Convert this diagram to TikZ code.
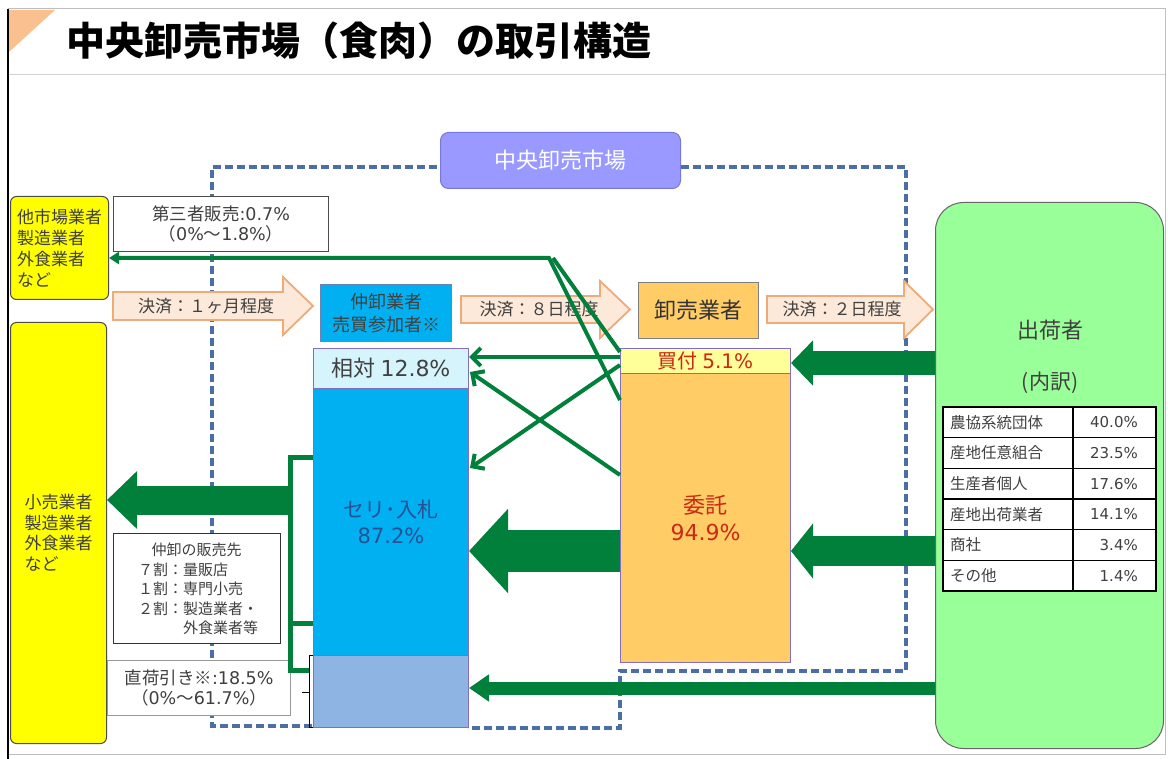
\documentclass[tikz,border=0pt]{standalone}
\usepackage{fontspec}
\setmainfont{Noto Sans CJK JP}
\newfontfamily\lat{DejaVu Sans}
\usetikzlibrary{arrows.meta}
\definecolor{gr}{RGB}{0,128,58}
\definecolor{dsh}{RGB}{74,110,165}
\definecolor{peach}{RGB}{253,233,217}
\definecolor{peachb}{RGB}{238,170,120}
\definecolor{yel}{RGB}{255,255,0}
\definecolor{txt}{RGB}{64,64,64}
\definecolor{cyanA}{RGB}{0,176,240}
\definecolor{paleC}{RGB}{214,244,252}
\definecolor{steelB}{RGB}{141,180,226}
\definecolor{paleY}{RGB}{255,255,153}
\definecolor{orgY}{RGB}{255,204,102}
\definecolor{lav}{RGB}{153,153,255}
\definecolor{lavB}{RGB}{120,120,220}
\definecolor{lgreen}{RGB}{153,255,153}
\definecolor{redT}{RGB}{204,40,20}
\definecolor{blueT}{RGB}{40,80,150}
\definecolor{triO}{RGB}{250,192,144}
\definecolor{barB}{RGB}{130,110,190}
\definecolor{frameG}{RGB}{190,190,190}
\newcommand\fs[2]{\fontsize{#1}{#2}\selectfont}
\newcommand\pkarrow[6]{\draw[peacharr] (#1,#4-#5) -- (#3,#4-#5) -- (#3,#4-#6) -- (#2,#4) -- (#3,#4+#6) -- (#3,#4+#5) -- (#1,#4+#5) -- cycle;}
\begin{document}
\begin{tikzpicture}[x=1pt,y=-1pt,
  box/.style={draw, inner sep=0pt, anchor=north west},
  lbl/.style={text=txt, inner sep=0pt},
  gthin/.style={draw=gr, line width=4pt},
  gtip/.style={-{Straight Barb[length=9pt,width=18pt]}},
  gbig/.style n args={3}{draw=gr, line width=#1, -{Triangle[length=#3,width=#2]}},
  peacharr/.style={fill=peach, draw=peachb, line width=1.8pt, line join=miter},
  mktline/.style={draw=dsh, line width=3.2pt, dash pattern=on 8pt off 4pt},
]
\useasboundingbox (0,0) rectangle (1168,759);
\fill[white] (0,0) rectangle (1168,759);
% frame and title
\draw[frameG, line width=1pt] (8,9) -- (1165,9) -- (1165,754) -- (8,754);
\draw[frameG!70, line width=1pt] (8,75) -- (1165,75);
\fill[triO] (9,10) -- (55,10) -- (9,52) -- cycle;
\draw[black, line width=2pt] (8,9) -- (8,759);
\node[anchor=west, inner sep=0pt, font=\fs{39}{41}\bfseries] (title) at (66,41) {中央卸売市場（食肉）の取引構造};

% market boundary (dashed)
\node[box, rounded corners=8pt, fill=lav, draw=lavB, line width=1pt, minimum width=240pt, minimum height=56pt, text=white, font=\fs{22}{24}] (mkt) at (440,132) {中央卸売市場};
\draw[mktline] (312,726) -- (212,726) -- (212,167) -- (mkt.west |- 0,167);
\draw[mktline] (mkt.east |- 0,167) -- (906,167) -- (906,671) -- (620,671) -- (620,728) -- (468,728);

% peach settlement arrows
\pkarrow{113}{313}{283}{306}{14}{29}
\node[lbl, font=\fs{17}{20}] (p1) at (206,306) {決済：１ヶ月程度};
\pkarrow{461}{630}{600}{309.5}{13.5}{28.5}
\node[lbl, font=\fs{17}{20}] (p2) at (539,309.5) {決済：８日程度};
\pkarrow{767}{933}{904}{309.5}{13.5}{28.5}
\node[lbl, font=\fs{17}{20}] (p3) at (842,309.5) {決済：２日程度};

% left side boxes
\node[box, rounded corners=6pt, fill=yel, draw=black!70, line width=1pt, minimum width=98pt, minimum height=103pt, align=left, text=txt, font=\fs{17}{21}] (oth) at (10,196) {他市場業者\\製造業者\\外食業者\\など};
\node[box, rounded corners=6pt, fill=yel, draw=black!70, line width=1pt, minimum width=96pt, minimum height=421pt, align=left, text=txt, font=\fs{17}{20.5}] (ret) at (10,322) {小売業者\\製造業者\\外食業者\\など};
\node[box, fill=white, draw=black!70, line width=1pt, minimum width=215pt, minimum height=55pt, align=center, text=txt, font=\fs{17.5}{20}] (third) at (113,196) {第三者販売{\lat :0.7\%}\\（{\lat 0\%}～{\lat 1.8\%}）};
\node[box, fill=white, draw=black!80, line width=1pt, minimum width=167pt, minimum height=110pt] (dest) at (113,533) {};
\node[lbl, anchor=north west, align=left, font=\fs{15}{19.5}] (desttxt) at (138,543) {\hspace*{0.9em}仲卸の販売先\\７割：量販店\\１割：専門小売\\２割：製造業者・\\\hspace*{3em}外食業者等};
\node[box, fill=white, draw=black!40, line width=1pt, minimum width=183pt, minimum height=55pt, align=center, text=txt, font=\fs{17.5}{20}] (jika) at (107,660) {直荷引き※{\lat :18.5\%}\\（{\lat 0\%}～{\lat 61.7\%}）};

% middle boxes
\node[box, fill=cyanA, draw=blueT!70, line width=1pt, minimum width=131pt, minimum height=57pt, align=center, text=txt, font=\fs{18}{23}] (naka) at (320,284) {仲卸業者\\売買参加者※};
\node[box, fill=orgY, draw=black!50, line width=1pt, minimum width=120pt, minimum height=56pt, text=black!80, font=\fs{22}{24}] (orosi) at (638,282) {卸売業者};
\node[box, fill=paleC, draw=barB, line width=1pt, minimum width=155pt, minimum height=40pt, text=txt, font=\fs{22}{24}] (aitai) at (313,348) {相対 {\lat 12.8\%}};
\node[box, fill=cyanA, draw=barB, line width=1pt, minimum width=155pt, minimum height=267pt, align=center, text=blueT, font=\fs{21}{26}] (seri) at (313,388) {セリ･入札\\{\lat 87.2\%}};
\node[box, fill=steelB, draw=barB, line width=1pt, minimum width=155pt, minimum height=72pt] (direct) at (313,655) {};
\draw[black, line width=0.8pt] (313,655) -- (309,655) -- (309,727) -- (313,727);
\draw[black, line width=0.8pt] (302,692) -- (309,692);
\node[box, fill=paleY, draw=barB, line width=1pt, minimum width=170pt, minimum height=25pt, text=redT, font=\fs{20}{21}] (kaitsuke) at (620,348) {買付 {\lat 5.1\%}};
\node[box, fill=orgY, draw=barB, line width=1pt, minimum width=170pt, minimum height=289pt, align=center, text=redT, font=\fs{22}{27}] (itaku) at (620,373) {委託\\{\lat 94.9\%}};

% shippers
\node[box, rounded corners=28pt, fill=lgreen, draw=black!60, line width=1pt, minimum width=228pt, minimum height=546pt] (ship) at (935,202) {};
\node[lbl, font=\fs{22}{24}] (shipt) at (1050,330) {出荷者};
\node[lbl, font=\fs{21}{24}] (shipsub) at (1050,383) {(内訳)};
\draw[black, line width=1.6pt, fill=white] (943,407) rectangle (1156,591);
\foreach \i in {1,...,5} \draw[black, line width=1.6pt] (943,407+\i*30.67) -- (1156,407+\i*30.67);
\draw[black, line width=1.6pt] (1073,407) -- (1073,591);
\foreach \i/\a/\b in {0/農協系統団体/40.0\%,1/産地任意組合/23.5\%,2/生産者個人/17.6\%,3/産地出荷業者/14.1\%,4/商社/3.4\%,5/その他/1.4\%}{
  \node[lbl, anchor=west, font=\fs{15.5}{18}] (tl\i) at (950,422.3+\i*30.67) {\a};
  \node[lbl, anchor=east, font=\fs{15}{18}\lat] (tr\i) at (1138,422.3+\i*30.67) {\b};
}

% thick green flows
\draw[gbig={24pt}{44pt}{22pt}] (ship.west |- 0,363) -- (kaitsuke.east |- 0,363);
\draw[gbig={30pt}{54pt}{22pt}] (ship.west |- 0,551) -- (itaku.east |- 0,551);
\draw[gbig={42pt}{82pt}{39pt}] (itaku.west |- 0,551) -- (seri.east |- 0,551);
\draw[gbig={13pt}{26pt}{20pt}] (ship.west |- 0,688) -- (direct.east |- 0,688);
\draw[gbig={29pt}{56pt}{30pt}] (292,500) -- (ret.east |- 0,500);

% thin green flows
\draw[gthin, gtip] (kaitsuke.west |- 0,357) -- (aitai.east |- 0,357);
\draw[gthin, gtip] (620,365) -- (470,468);
\draw[gthin, gtip] (620,475) -- (470,372);
\draw[gthin, line join=miter, -{Triangle[length=10pt,width=12pt]}] (620,400) -- (549,258) -- (oth.east |- 0,258);
\draw[gthin] (620,352) -- (553,258);
\draw[gthin, line width=5pt, line join=miter] (seri.west |- 0,457) -- (290,457) -- (290,670) -- (309,670);
\draw[gthin, line width=5pt] (290,623) -- (seri.west |- 0,623);
\end{tikzpicture}
\end{document}
